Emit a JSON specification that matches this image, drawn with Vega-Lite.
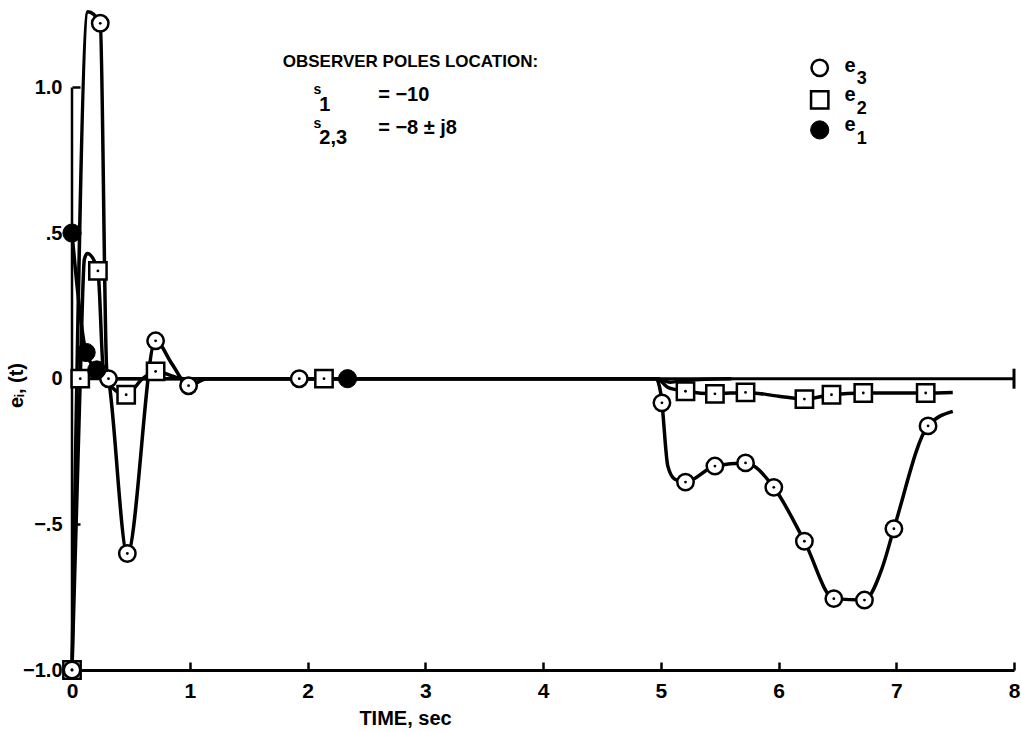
{
  "$schema": "https://vega.github.io/schema/vega-lite/v6.json",
  "width": 942,
  "height": 670,
  "autosize": "none",
  "padding": {"left": 72, "top": 0, "right": 7, "bottom": 62},
  "background": "white",
  "config": {"view": {"stroke": null}, "font": "Liberation Sans"},
  "datasets": {
    "zero": [{"t": 0, "t2": 8, "v": 0}],
    "yaxis": [{"t": 0, "v": -1, "v2": 1}],
    "endtick": [{"t": 8, "v": 0}],
    "lines": [
      {"series": "e3", "t": 0, "v": -1},
      {"series": "e3", "t": 0.135, "v": 1.26},
      {"series": "e3", "t": 0.24, "v": 1.22},
      {"series": "e3", "t": 0.295, "v": 0.03},
      {"series": "e3", "t": 0.31, "v": 0},
      {"series": "e3", "t": 0.47, "v": -0.6},
      {"series": "e3", "t": 0.71, "v": 0.13},
      {"series": "e3", "t": 0.85, "v": 0.05},
      {"series": "e3", "t": 0.99, "v": -0.024},
      {"series": "e3", "t": 1.15, "v": 0},
      {"series": "e3", "t": 4.96, "v": 0},
      {"series": "e3", "t": 5.0, "v": -0.05},
      {"series": "e3", "t": 5.01, "v": -0.083},
      {"series": "e3", "t": 5.06, "v": -0.3},
      {"series": "e3", "t": 5.12, "v": -0.345},
      {"series": "e3", "t": 5.21, "v": -0.355},
      {"series": "e3", "t": 5.46, "v": -0.3},
      {"series": "e3", "t": 5.72, "v": -0.289},
      {"series": "e3", "t": 5.96, "v": -0.373},
      {"series": "e3", "t": 6.22, "v": -0.558},
      {"series": "e3", "t": 6.47, "v": -0.755},
      {"series": "e3", "t": 6.73, "v": -0.76},
      {"series": "e3", "t": 6.88, "v": -0.65},
      {"series": "e3", "t": 6.98, "v": -0.515},
      {"series": "e3", "t": 7.27, "v": -0.162},
      {"series": "e3", "t": 7.48, "v": -0.112},
      {"series": "e2", "t": 0, "v": -1},
      {"series": "e2", "t": 0.07, "v": 0},
      {"series": "e2", "t": 0.105, "v": 0.41},
      {"series": "e2", "t": 0.13, "v": 0.43},
      {"series": "e2", "t": 0.22, "v": 0.37},
      {"series": "e2", "t": 0.27, "v": 0.01},
      {"series": "e2", "t": 0.46, "v": -0.055},
      {"series": "e2", "t": 0.6, "v": 0.0},
      {"series": "e2", "t": 0.71, "v": 0.025},
      {"series": "e2", "t": 0.95, "v": 0},
      {"series": "e2", "t": 4.97, "v": 0},
      {"series": "e2", "t": 5.06, "v": -0.03},
      {"series": "e2", "t": 5.21, "v": -0.043},
      {"series": "e2", "t": 5.46, "v": -0.052},
      {"series": "e2", "t": 5.72, "v": -0.047},
      {"series": "e2", "t": 6.0, "v": -0.06},
      {"series": "e2", "t": 6.22, "v": -0.07},
      {"series": "e2", "t": 6.45, "v": -0.055},
      {"series": "e2", "t": 6.72, "v": -0.049},
      {"series": "e2", "t": 7.25, "v": -0.049},
      {"series": "e2", "t": 7.48, "v": -0.047},
      {"series": "e1", "t": 0, "v": 0.5},
      {"series": "e1", "t": 0.12, "v": 0.09},
      {"series": "e1", "t": 0.21, "v": 0.03},
      {"series": "e1", "t": 0.3, "v": 0},
      {"series": "e1", "t": 4.97, "v": 0},
      {"series": "e1", "t": 5.08, "v": -0.012},
      {"series": "e1", "t": 5.22, "v": -0.005},
      {"series": "e1", "t": 5.6, "v": 0}
    ],
    "markers": [
      {"m": "square", "src": "data", "t": 0, "v": -1},
      {"m": "square", "src": "data", "t": 0.07, "v": 0},
      {"m": "square", "src": "data", "t": 0.22, "v": 0.37},
      {"m": "square", "src": "data", "t": 0.46, "v": -0.055},
      {"m": "square", "src": "data", "t": 0.71, "v": 0.025},
      {"m": "square", "src": "data", "t": 2.14, "v": 0},
      {"m": "square", "src": "data", "t": 5.21, "v": -0.043},
      {"m": "square", "src": "data", "t": 5.46, "v": -0.052},
      {"m": "square", "src": "data", "t": 5.72, "v": -0.047},
      {"m": "square", "src": "data", "t": 6.22, "v": -0.07},
      {"m": "square", "src": "data", "t": 6.45, "v": -0.055},
      {"m": "square", "src": "data", "t": 6.72, "v": -0.049},
      {"m": "square", "src": "data", "t": 7.25, "v": -0.049},
      {"m": "circle", "src": "data", "t": 0, "v": -1},
      {"m": "circle", "src": "data", "t": 0.24, "v": 1.22},
      {"m": "circle", "src": "data", "t": 0.31, "v": 0},
      {"m": "circle", "src": "data", "t": 0.47, "v": -0.6},
      {"m": "circle", "src": "data", "t": 0.71, "v": 0.13},
      {"m": "circle", "src": "data", "t": 0.99, "v": -0.024},
      {"m": "circle", "src": "data", "t": 1.93, "v": 0},
      {"m": "circle", "src": "data", "t": 5.01, "v": -0.083},
      {"m": "circle", "src": "data", "t": 5.21, "v": -0.355},
      {"m": "circle", "src": "data", "t": 5.46, "v": -0.3},
      {"m": "circle", "src": "data", "t": 5.72, "v": -0.289},
      {"m": "circle", "src": "data", "t": 5.96, "v": -0.373},
      {"m": "circle", "src": "data", "t": 6.22, "v": -0.558},
      {"m": "circle", "src": "data", "t": 6.47, "v": -0.755},
      {"m": "circle", "src": "data", "t": 6.73, "v": -0.76},
      {"m": "circle", "src": "data", "t": 6.98, "v": -0.515},
      {"m": "circle", "src": "data", "t": 7.27, "v": -0.162},
      {"m": "filled", "src": "data", "t": 0, "v": 0.5},
      {"m": "filled", "src": "data", "t": 0.12, "v": 0.09},
      {"m": "filled", "src": "data", "t": 0.21, "v": 0.03},
      {"m": "filled", "src": "data", "t": 2.34, "v": 0},
      {"m": "circle", "src": "legend", "t": 6.35, "v": 1.067},
      {"m": "square", "src": "legend", "t": 6.35, "v": 0.957},
      {"m": "filled", "src": "legend", "t": 6.35, "v": 0.854}
    ],
    "notes": [
      {"role": "head", "t": 1.79, "v": 1.087, "text": "OBSERVER POLES LOCATION:"},
      {"role": "s", "t": 2.05, "v": 0.99, "text": "s"},
      {"role": "sub", "t": 2.1, "v": 0.94, "text": "1"},
      {"role": "eq", "t": 2.6, "v": 0.975, "text": "= −10"},
      {"role": "s", "t": 2.05, "v": 0.875, "text": "s"},
      {"role": "sub", "t": 2.1, "v": 0.825, "text": "2,3"},
      {"role": "eq", "t": 2.6, "v": 0.86, "text": "= −8 ± j8"},
      {"role": "e", "t": 6.56, "v": 1.075, "text": "e"},
      {"role": "esub", "t": 6.665, "v": 1.03, "text": "3"},
      {"role": "e", "t": 6.56, "v": 0.975, "text": "e"},
      {"role": "esub", "t": 6.665, "v": 0.925, "text": "2"},
      {"role": "e", "t": 6.56, "v": 0.872, "text": "e"},
      {"role": "esub", "t": 6.665, "v": 0.822, "text": "1"}
    ]
  },
  "encoding": {
    "x": {
      "field": "t", "type": "quantitative",
      "scale": {"domain": [0, 8], "nice": false, "zero": false},
      "axis": {
        "values": [0, 1, 2, 3, 4, 5, 6, 7, 8], "format": "d", "grid": false,
        "tickSize": -8, "tickWidth": 2.5, "tickColor": "black",
        "domainColor": "black", "domainWidth": 3,
        "labelFont": "Liberation Sans", "labelFontSize": 21, "labelFontWeight": "bold",
        "labelColor": "black", "labelPadding": 18, "labelFlush": false,
        "title": "TIME, sec", "titleFont": "Liberation Sans", "titleFontSize": 20,
        "titleFontWeight": "bold", "titleColor": "black",
        "titleX": 333, "titleY": 48, "titleAlign": "center", "titleBaseline": "middle"
      }
    },
    "y": {
      "field": "v", "type": "quantitative",
      "scale": {"domain": [-1, 1.3], "nice": false, "zero": false},
      "axis": {
        "values": [-1, -0.5, 0, 0.5, 1], "grid": false, "domain": false,
        "labelExpr": "datum.value == 0 ? '0' : (abs(datum.value) == 1 ? format(datum.value, '.1f') : replace(format(datum.value, '.1f'), '0.', '.'))",
        "tickSize": -8, "tickWidth": 2.5, "tickColor": "black",
        "labelFont": "Liberation Sans", "labelFontSize": 20, "labelFontWeight": "bold",
        "labelColor": "black", "labelPadding": 18,
        "title": "eᵢ, (t)", "titleFont": "Liberation Sans", "titleFontSize": 20,
        "titleFontWeight": "bold", "titleColor": "black", "titleAngle": 270,
        "titleX": -56, "titleY": 385, "titleAlign": "center", "titleBaseline": "middle"
      }
    }
  },
  "layer": [
    {
      "data": {"name": "zero"},
      "mark": {"type": "rule", "color": "black", "strokeWidth": 3},
      "encoding": {"x2": {"field": "t2"}}
    },
    {
      "data": {"name": "yaxis"},
      "mark": {"type": "rule", "color": "black", "strokeWidth": 2.5},
      "encoding": {"y2": {"field": "v2"}}
    },
    {
      "data": {"name": "endtick"},
      "mark": {"type": "tick", "orient": "vertical", "color": "black", "size": 20, "thickness": 3, "opacity": 1},
      "encoding": {}
    },
    {
      "data": {"name": "lines"},
      "mark": {"type": "line", "color": "black", "strokeWidth": 3.5, "interpolate": "monotone", "clip": false},
      "encoding": {"detail": {"field": "series"}}
    },
    {
      "data": {"name": "markers"},
      "transform": [{"filter": "datum.m == 'square'"}],
      "mark": {"type": "point", "shape": "square", "filled": true, "fill": "white", "stroke": "black", "strokeWidth": 2.5, "size": 300, "opacity": 1},
      "encoding": {}
    },
    {
      "data": {"name": "markers"},
      "transform": [{"filter": "datum.m == 'circle'"}],
      "mark": {"type": "point", "shape": "circle", "filled": true, "fill": "white", "stroke": "black", "strokeWidth": 2.5, "size": 270, "opacity": 1},
      "encoding": {}
    },
    {
      "data": {"name": "markers"},
      "transform": [{"filter": "datum.m == 'filled'"}],
      "mark": {"type": "point", "shape": "circle", "filled": true, "fill": "black", "stroke": "black", "strokeWidth": 1, "size": 330, "opacity": 1},
      "encoding": {}
    },
    {
      "data": {"name": "markers"},
      "transform": [{"filter": "datum.m != 'filled' && datum.src == 'data'"}],
      "mark": {"type": "point", "shape": "circle", "filled": true, "fill": "black", "size": 8, "opacity": 1},
      "encoding": {}
    },
    {
      "data": {"name": "notes"},
      "transform": [{"filter": "datum.role == 'head'"}],
      "mark": {"type": "text", "align": "left", "baseline": "middle", "font": "Liberation Sans", "fontWeight": "bold", "fontSize": 17, "color": "black"},
      "encoding": {"text": {"field": "text"}}
    },
    {
      "data": {"name": "notes"},
      "transform": [{"filter": "datum.role == 's'"}],
      "mark": {"type": "text", "align": "left", "baseline": "middle", "font": "Liberation Sans", "fontWeight": "bold", "fontSize": 14, "color": "black"},
      "encoding": {"text": {"field": "text"}}
    },
    {
      "data": {"name": "notes"},
      "transform": [{"filter": "datum.role == 'sub' || datum.role == 'eq'"}],
      "mark": {"type": "text", "align": "left", "baseline": "middle", "font": "Liberation Sans", "fontWeight": "bold", "fontSize": 20, "color": "black"},
      "encoding": {"text": {"field": "text"}}
    },
    {
      "data": {"name": "notes"},
      "transform": [{"filter": "datum.role == 'e'"}],
      "mark": {"type": "text", "align": "left", "baseline": "middle", "font": "Liberation Sans", "fontWeight": "bold", "fontSize": 20, "color": "black"},
      "encoding": {"text": {"field": "text"}}
    },
    {
      "data": {"name": "notes"},
      "transform": [{"filter": "datum.role == 'esub'"}],
      "mark": {"type": "text", "align": "left", "baseline": "middle", "font": "Liberation Sans", "fontWeight": "bold", "fontSize": 18, "color": "black"},
      "encoding": {"text": {"field": "text"}}
    }
  ]
}
